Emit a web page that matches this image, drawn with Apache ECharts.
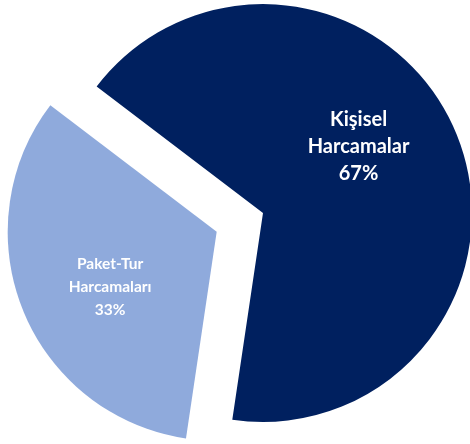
<!DOCTYPE html>
<html>
<head>
<meta charset="utf-8">
<script src="https://cdn.jsdelivr.net/npm/echarts@6/dist/echarts.min.js"></script>
<style>
  html, body { margin: 0; padding: 0; background: #fff; }
  #chart { width: 470px; height: 444px; }
</style>
</head>
<body>
<div id="chart"></div>
<script>
const names = ["Kişisel\nHarcamalar", "Paket-Tur\nHarcamaları"];
const values = [67, 33];
const colors = ["#00205F", "#8FAADC"];
const labelSizes = [20, 15.5];
const labelLines = [27, 23];

const chart = echarts.init(document.getElementById("chart"));

const option = {
  animation: false,
  series: [
    {
      type: "pie",
      center: [263, 213],
      radius: [0, 209],
      startAngle: 142.75,
      clockwise: true,
      selectedMode: "single",
      selectedOffset: 50,
      avoidLabelOverlap: false,
      emphasis: { disabled: true },
      label: {
        show: true,
        position: "inside",
        formatter: "{b}\n{d}%",
        color: "#fff",
        fontFamily: "Lato",
        fontWeight: "bold",
        align: "center",
      },
      labelLine: { show: false },
      labelLayout(params) {
        return params.dataIndex === 0 ? { dx: -4, dy: -26 } : { dx: -7, dy: 15 };
      },
      data: values.map((v, i) => ({
        name: names[i],
        value: v,
        selected: i === 1,
        itemStyle: { color: colors[i] },
        select: { itemStyle: { color: colors[i] } },
        label: { fontSize: labelSizes[i], lineHeight: labelLines[i] },
      })),
    },
  ],
};

chart.setOption(option);
</script>
</body>
</html>
